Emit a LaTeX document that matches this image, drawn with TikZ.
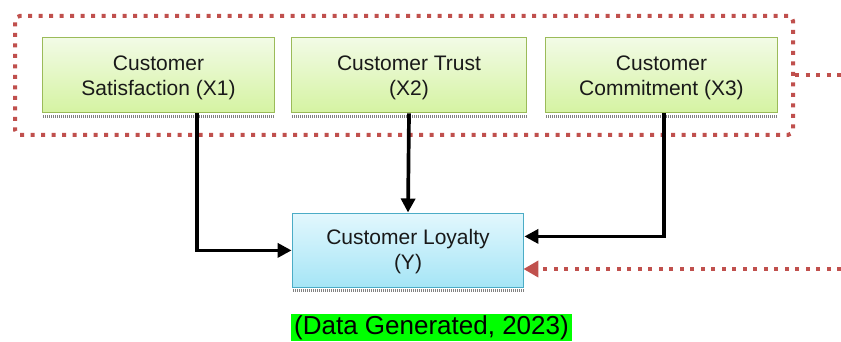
\documentclass[tikz,border=0pt]{standalone}
\usepackage{fontspec}
\setmainfont{Liberation Sans}
\usetikzlibrary{arrows.meta}
\definecolor{grnB}{HTML}{9BBB59}
\definecolor{grnT}{HTML}{F2FBE6}
\definecolor{grnBot}{HTML}{D5F3A2}
\definecolor{bluB}{HTML}{4BACC6}
\definecolor{bluT}{HTML}{E2F7FD}
\definecolor{bluBot}{HTML}{A5E5F6}
\definecolor{redD}{HTML}{C0504D}
\definecolor{lblG}{HTML}{00FF00}
\tikzset{
  gbox/.style={draw=grnB, line width=1.8pt, top color=grnT, bottom color=grnBot,
    minimum height=75pt, inner sep=0pt},
  bbox/.style={draw=bluB, line width=1.8pt, top color=bluT, bottom color=bluBot,
    minimum width=231pt, minimum height=74pt, inner sep=0pt},
  btext/.style={align=center, font=\fontsize{21}{25}\selectfont, inner sep=0pt, text=black!90},
  conn/.style={line width=3.7pt, -{Triangle[length=14pt,width=14pt]}},
  reddot/.style={draw=redD, line width=4pt, dash pattern=on 4pt off 6.5pt},
  shad/.style={draw=black!50, line width=3pt, dash pattern=on 1pt off 1pt}
}
\begin{document}
\begin{tikzpicture}[x=1pt,y=-1pt]
\useasboundingbox (0,0) rectangle (841,341);
% group
\node[reddot, rounded corners=5pt, minimum width=778pt, minimum height=119pt, inner sep=0pt] (grp) at (404,75.4) {};
% shadows
\foreach \a/\b/\y in {43/275/116, 292/527/116, 546/778/116, 293/524/290}{
  \draw[shad] (\a,\y) -- (\b,\y);
}
\node[gbox, minimum width=232pt] (x1) at (158.5,75) {};
\node[gbox, minimum width=235pt] (x2) at (409,75) {};
\node[gbox, minimum width=232pt] (x3) at (661.5,75) {};
\node[bbox] (y) at (408,250.4) {};
\node[btext] (t1) at (158.5,77.5) {Customer\\Satisfaction (X1)};
\node[btext] (t2) at (409,77.5) {Customer Trust\\(X2)};
\node[btext] (t3) at (661.5,77.5) {Customer\\Commitment (X3)};
\node[btext] (ty) at (408,252) {Customer Loyalty\\(Y)};
\node[fill=lblG, inner xsep=3.5pt, inner ysep=1pt, font=\fontsize{26}{28}\selectfont] (lbl) at (431.5,327.5) {(Data Generated, 2023)};
% connectors
\draw[conn] ([xshift=38.5pt]x1.south) |- (y.west);
\draw[conn] (x2.south) -- (y.north);
\draw[conn] ([xshift=2.5pt]x3.south) |- ([yshift=14pt]y.east);
\coordinate (r1) at (841,75.4);
\coordinate (r2) at (841,269);
\draw[reddot] (grp.east) -- (r1);
\draw[reddot, -{Triangle[length=15pt,width=16pt,fill=redD]}, shorten >=-1pt] (r2) -- ([yshift=-18.6pt]y.east);
\end{tikzpicture}
\end{document}
